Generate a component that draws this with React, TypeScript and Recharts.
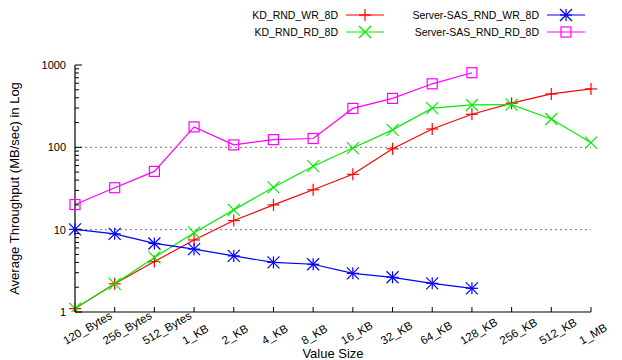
import React from 'react';
import {
    LineChart,
    Line,
    XAxis,
    YAxis,
    ReferenceLine,
} from 'recharts';

const sizes = [
    '120_Bytes', '256_Bytes', '512_Bytes', '1_KB', '2_KB', '4_KB', '8_KB',
    '16_KB', '32_KB', '64_KB', '128_KB', '256_KB', '512_KB', '1_MB',
];
const kdWr = [1.1, 2.2, 4.1, 7.5, 12.9, 20, 30.5, 47, 96, 167, 252, 344, 445, 512];
const kdRd = [1.1, 2.2, 4.6, 9.2, 17.4, 32.7, 59, 98, 163, 299, 327, 330, 221, 114];
const sasWr = [10.1, 8.9, 6.8, 5.8, 4.8, 4.0, 3.8, 2.95, 2.64, 2.23, 1.94, null, null, null];
const sasRd = [20.2, 32.3, 51, 177, 107, 124, 128, 297, 393, 591, 806, null, null, null];

const majorTicks = [1, 10, 100, 1000];
const yTicks = [1, 2, 3, 4, 5, 6, 7, 8, 9, 10, 20, 30, 40, 50, 60, 70, 80, 90, 100, 200, 300, 400, 500, 600, 700, 800, 900, 1000];

const data = sizes.map((size, i) => ({
    size,
    kdWr: kdWr[i],
    kdRd: kdRd[i],
    sasWr: sasWr[i] ?? undefined,
    sasRd: sasRd[i] ?? undefined,
}));

const FONT = '"Liberation Sans", Arial, sans-serif';

type Shape = 'plus' | 'cross' | 'star' | 'square';

const Marker = ({ cx, cy, shape, color }: { cx: number; cy: number; shape: Shape; color: string }) => {
    const s = 6;
    if (cx == null || cy == null || isNaN(cx) || isNaN(cy)) return null;
    if (shape === 'square') {
        return <rect x={cx - 5} y={cy - 5} width={10} height={10} fill="none" stroke={color} strokeWidth={1.2} />;
    }
    const plus = (
        <>
            <line x1={cx - s} y1={cy} x2={cx + s} y2={cy} stroke={color} strokeWidth={1.2} />
            <line x1={cx} y1={cy - s} x2={cx} y2={cy + s} stroke={color} strokeWidth={1.2} />
        </>
    );
    const cross = (
        <>
            <line x1={cx - s} y1={cy - s} x2={cx + s} y2={cy + s} stroke={color} strokeWidth={1.2} />
            <line x1={cx - s} y1={cy + s} x2={cx + s} y2={cy - s} stroke={color} strokeWidth={1.2} />
        </>
    );
    return (
        <g>
            {shape !== 'cross' && plus}
            {shape !== 'plus' && cross}
        </g>
    );
};

const series: { key: string; name: string; color: string; shape: Shape }[] = [
    { key: 'kdWr', name: 'KD_RND_WR_8D', color: '#ff0000', shape: 'plus' },
    { key: 'kdRd', name: 'KD_RND_RD_8D', color: '#00ee00', shape: 'cross' },
    { key: 'sasWr', name: 'Server-SAS_RND_WR_8D', color: '#0000ff', shape: 'star' },
    { key: 'sasRd', name: 'Server-SAS_RND_RD_8D', color: '#ff00ff', shape: 'square' },
];

const YTick = (props: any) => {
    const { x, y, payload } = props;
    const major = majorTicks.includes(payload.value);
    return (
        <g>
            <line x1={x} y1={y} x2={x + (major ? 7 : 4)} y2={y} stroke="#000" />
            {major && (
                <text x={x - 9} y={y} dy="0.35em" textAnchor="end" fontSize={11} fontFamily={FONT} fill="#000">
                    {payload.value}
                </text>
            )}
        </g>
    );
};

const XTick = (props: any) => {
    const { x, y, payload } = props;
    return (
        <g>
            <line x1={x} y1={y} x2={x} y2={y - 5} stroke="#000" />
            <text
                x={x - 9}
                y={y + 33}
                textAnchor="start"
                fontSize={11.5}
                fontFamily={FONT}
                fill="#000"
                transform={`rotate(-30 ${x - 9} ${y + 33})`}
            >
                {payload.value}
            </text>
        </g>
    );
};

const LegendRow = ({ right, top, s }: { right: number; top: number; s: typeof series[number] }) => (
    <div style={{ position: 'absolute', left: 0, top, width: right, height: 16, display: 'flex', alignItems: 'center', justifyContent: 'flex-end' }}>
        <span style={{ fontSize: 10.5, fontFamily: FONT, color: '#000', marginRight: 8, whiteSpace: 'nowrap' }}>{s.name}</span>
        <svg width={38} height={16} style={{ display: 'block' }}>
            <line x1={0} y1={8} x2={38} y2={8} stroke={s.color} strokeWidth={1.2} />
            <Marker cx={19} cy={8} shape={s.shape} color={s.color} />
        </svg>
    </div>
);

export default function App() {
    return (
        <div style={{ position: 'relative', width: 622, height: 360, background: '#fff' }}>
            <style>{'body{margin:0}'}</style>
            <LineChart
                width={622}
                height={360}
                data={data}
                margin={{ top: 65, right: 31, bottom: 0, left: 0 }}
            >
                <XAxis
                    dataKey="size"
                    height={48}
                    interval={0}
                    padding={{ left: 0, right: 0 }}
                    tickSize={0}
                    tickMargin={0}
                    tickLine={false}
                    axisLine={{ stroke: '#000', strokeWidth: 1.2 }}
                    tick={<XTick />}
                    label={{ value: 'Value Size', position: 'insideBottom', offset: 2, fontSize: 13, fontFamily: FONT, fill: '#000' }}
                />
                <XAxis
                    xAxisId="top"
                    dataKey="size"
                    orientation="top"
                    height={0}
                    tick={false}
                    tickLine={false}
                    axisLine={{ stroke: '#000', strokeWidth: 1.2 }}
                />
                <YAxis
                    scale="log"
                    domain={[1, 1000]}
                    ticks={yTicks}
                    interval={0}
                    allowDataOverflow
                    width={75}
                    tickSize={0}
                    tickMargin={0}
                    tickLine={false}
                    axisLine={{ stroke: '#000', strokeWidth: 1.2 }}
                    tick={<YTick />}
                    label={{ value: 'Average Throughput (MB/sec) in Log', angle: -90, position: 'insideLeft', offset: 14, fontSize: 13, fontFamily: FONT, fill: '#000', style: { textAnchor: 'middle' } }}
                />
                <YAxis
                    yAxisId="right"
                    orientation="right"
                    type="number"
                    domain={[0, 1]}
                    width={0}
                    tick={false}
                    tickLine={false}
                    axisLine={{ stroke: '#000', strokeWidth: 1.2 }}
                />
                <ReferenceLine y={10} stroke="#777" strokeDasharray="2 3" />
                <ReferenceLine y={100} stroke="#777" strokeDasharray="2 3" />
                {series.map((s) => (
                    <Line
                        key={s.key}
                        dataKey={s.key}
                        name={s.name}
                        stroke={s.color}
                        strokeWidth={1.2}
                        type="linear"
                        isAnimationActive={false}
                        dot={(p: any) => <Marker key={`${s.key}-${p.index}`} cx={p.cx} cy={p.cy} shape={s.shape} color={s.color} />}
                        activeDot={false}
                    />
                ))}
            </LineChart>
            <LegendRow right={384} top={7} s={series[0]} />
            <LegendRow right={384} top={24} s={series[1]} />
            <LegendRow right={585} top={7} s={series[2]} />
            <LegendRow right={585} top={24} s={series[3]} />
        </div>
    );
}
